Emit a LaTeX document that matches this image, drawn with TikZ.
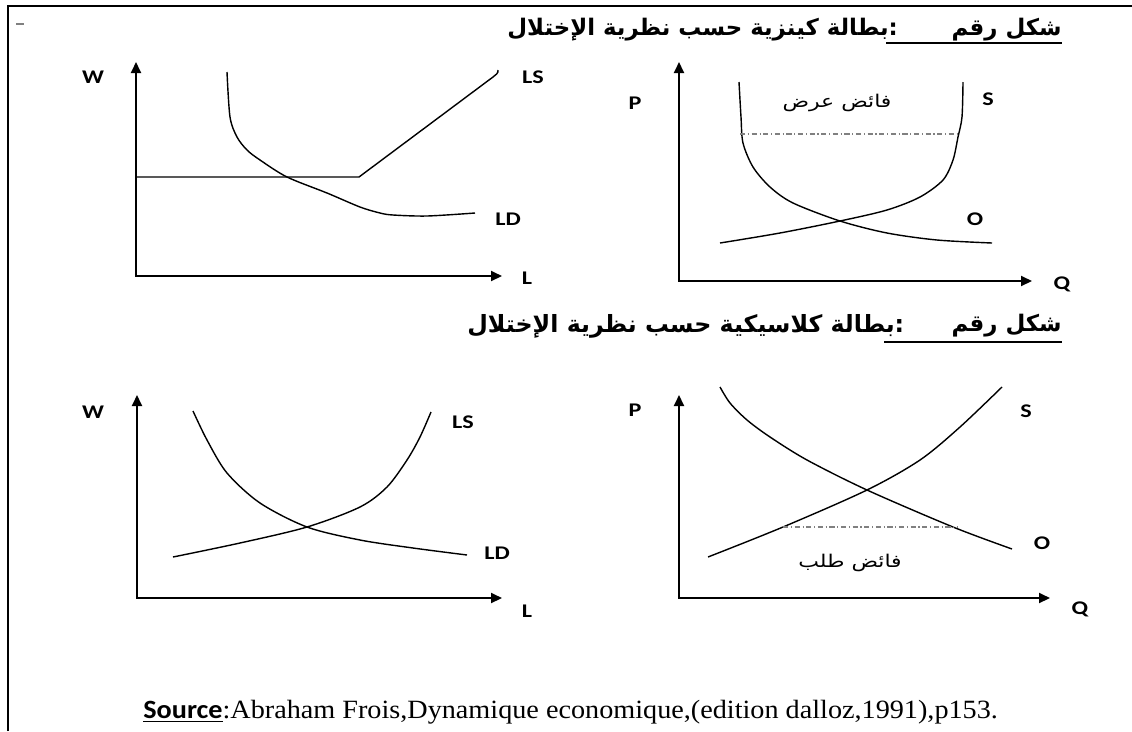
\documentclass[tikz,border=0pt]{standalone}
\usepackage{fontspec}
\setmainfont{Liberation Serif}
\newfontfamily\lblfont[FakeStretch=1.25]{Carlito}
\newfontfamily\srcfont[FakeStretch=1.07]{Liberation Serif}
\newfontfamily\srcbold[FakeStretch=1.07]{Carlito}
\newfontfamily\arabicfont[Script=Arabic]{DejaVu Sans}
\newfontfamily\notefont[Script=Arabic,FakeStretch=1.25]{DejaVu Sans}
\TeXXeTstate=1
\usetikzlibrary{arrows.meta, positioning, calc}

\begin{document}
\begin{tikzpicture}[
  x=0.02cm, y=-0.02cm,
  axis/.style={line width=1.1pt, {Triangle[length=2.2mm,width=2mm]}-{Triangle[length=2.2mm,width=2mm]}},
  curve/.style={line width=0.8pt},
  gap/.style={gray, line width=0.6pt, dash pattern=on 3pt off 1.5pt on 0.6pt off 1.5pt},
  lbl/.style={font=\lblfont\bfseries\fontsize{11}{12}\selectfont, inner sep=0pt},
  ttl/.style={font=\arabicfont\bfseries\fontsize{13}{15}\selectfont, inner sep=0pt},
  note/.style={font=\notefont\fontsize{10}{12}\selectfont, inner sep=0pt}]
\useasboundingbox (0,0) rectangle (1132,731);
% frame
\draw[line width=1.7pt] (8,731) -- (8,6) -- (1132,6);
\draw[gray, line width=0.9pt] (16,24) -- (24,24);

% titles
\node[ttl, anchor=east] (t1a) at (1062,30) {\beginR شكل رقم\endR};
\node[ttl, anchor=west] (t1b) at (507,30) {\beginR :بطالة كينزية حسب نظرية الإختلال\endR};
\coordinate (u1) at (886,43);
\draw[line width=0.9pt] (u1) -- (u1 -| t1a.east);
\node[ttl, anchor=east] (t2a) at (1062,326) {\beginR شكل رقم\endR};
\node[ttl, anchor=west, font=\arabicfont\bfseries\fontsize{13.5}{15}\selectfont] (t2b) at (467,326)
  {\beginR :بطالة كلاسيكية حسب نظرية الإختلال\endR};
\coordinate (u2) at (884,342);
\draw[line width=0.9pt] (u2) -- (u2 -| t2a.east);

% chart 1 : keynesian, labour market
\coordinate (o1) at (136,276);
\coordinate (y1) at (136,62);
\coordinate (x1) at (502,276);
\draw[axis] (y1) -- (o1) -- (x1);
\node[lbl] (w1) at (93,77) {W};
\node[lbl] (ls1) at (533,77) {LS};
\node[lbl] (ld1) at (508,219) {LD};
\node[lbl] (l1) at (527,278) {L};
\draw[curve] (o1 |- 0,177) -- (359,177) -- (493,77) to[out=40,in=-80] (498,70);
\draw[curve] plot[smooth] coordinates {(227,72) (230,117) (237,137) (247,150) (260,160)
  (287,177) (327,193) (360,207) (380,213) (393,215) (427,216) (475,213)};

% chart 2 : keynesian, goods market
\coordinate (o2) at (679,281);
\coordinate (y2) at (679,62);
\coordinate (x2) at (1032,281);
\draw[axis] (y2) -- (o2) -- (x2);
\node[lbl] (p2) at (635,103) {P};
\node[lbl] (s2) at (988,99) {S};
\node[lbl] (d2) at (975,219) {O};
\node[lbl] (q2) at (1062,284) {Q};
\draw[curve] plot[smooth] coordinates {(963,82) (962,117) (958,137) (953,160) (943,180)
  (920,197) (887,210) (840,221) (780,233) (720,243)};
\draw[curve] plot[smooth] coordinates {(739,82) (741,117) (743,143) (753,167) (770,187)
  (793,203) (840,221) (887,233) (937,240) (992,243)};
\coordinate (e2a) at (740,134);
\coordinate (e2b) at (958,134);
\draw[gap] (e2a) -- (e2b);
\node[note] (ex2) at (837,103) {\beginR فائض عرض\endR};

% chart 3 : classical, labour market
\coordinate (o3) at (137,598);
\coordinate (y3) at (137,395);
\coordinate (x3) at (502,598);
\draw[axis] (y3) -- (o3) -- (x3);
\node[lbl] (w3) at (93,412) {W};
\node[lbl] (ls3) at (463,422) {LS};
\node[lbl] (ld3) at (497,553) {LD};
\node[lbl] (l3) at (527,611) {L};
\draw[curve] plot[smooth] coordinates {(173,557) (240,543) (307,527) (360,507) (387,487)
  (407,460) (420,437) (431,412)};
\draw[curve] plot[smooth] coordinates {(193,411) (207,440) (227,473) (260,503) (307,527)
  (360,540) (413,548) (467,555)};

% chart 4 : classical, goods market
\coordinate (o4) at (679,598);
\coordinate (y4) at (679,395);
\coordinate (x4) at (1050,598);
\draw[axis] (y4) -- (o4) -- (x4);
\node[lbl] (p4) at (635,410) {P};
\node[lbl] (s4) at (1026,411) {S};
\node[lbl] (d4) at (1042,543) {O};
\node[lbl] (q4) at (1080,609) {Q};
\draw[curve] plot[smooth] coordinates {(708,557) (783,527) (867,490) (920,460) (960,427)
  (1002,387)};
\draw[curve] plot[smooth] coordinates {(720,387) (730,403) (747,420) (770,437) (807,460)
  (867,490) (953,527) (1012,549)};
\coordinate (e4a) at (783,527);
\coordinate (e4b) at (957,527);
\draw[gap] (e4a) -- (e4b);
\node[note] (ex4) at (850,563) {\beginR فائض طلب\endR};

% source
\node[anchor=west, inner sep=0pt, font=\srcfont\fontsize{15}{17}\selectfont] (src) at (143,712)
  {\underline{\srcbold\bfseries Source}:Abraham Frois,Dynamique economique,(edition dalloz,1991),p153.};
\end{tikzpicture}
\end{document}
